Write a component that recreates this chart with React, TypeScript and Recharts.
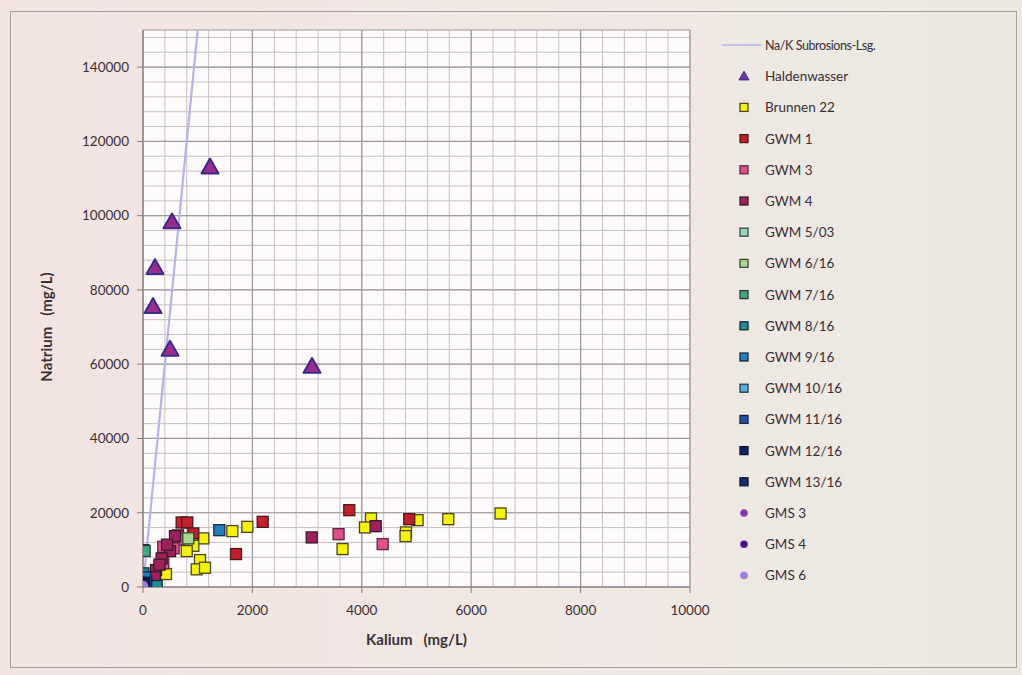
import React from 'react';
import { ScatterChart, Scatter, XAxis, YAxis, CartesianGrid, Label } from 'recharts';

// axis ticks
const kaliumTicks = [0, 2000, 4000, 6000, 8000, 10000];
const natriumTicks = [0, 20000, 40000, 60000, 80000, 100000, 120000, 140000];
const kaliumMinor = Array.from({ length: 26 }, (_, i) => i * 400);
const natriumMinor = Array.from({ length: 38 }, (_, i) => i * 4000);

// Na/K line
const subrosionLine = [
  { k: 0, na: 0 },
  { k: 1000, na: 150000 },
];

const haldenwasser = [
  { k: 1225, na: 113100 },
  { k: 530, na: 98300 },
  { k: 219, na: 86000 },
  { k: 183, na: 75500 },
  { k: 494, na: 64000 },
  { k: 3090, na: 59400 },
];

const brunnen22 = [
  { k: 1633, na: 15050 },
  { k: 1907, na: 16200 },
  { k: 1103, na: 13090 },
  { k: 920, na: 11100 },
  { k: 799, na: 9670 },
  { k: 1042, na: 7250 },
  { k: 982, na: 4750 },
  { k: 1133, na: 5190 },
  { k: 420, na: 3490 },
  { k: 3648, na: 10210 },
  { k: 4168, na: 18460 },
  { k: 4058, na: 16040 },
  { k: 5020, na: 18000 },
  { k: 4808, na: 14700 },
  { k: 4800, na: 13700 },
  { k: 5581, na: 18270 },
  { k: 6537, na: 19800 },
];

const gwm1 = [
  { k: 707, na: 17380 },
  { k: 809, na: 17380 },
  { k: 1700, na: 8870 },
  { k: 2188, na: 17550 },
  { k: 3771, na: 20690 },
  { k: 4867, na: 18270 },
  { k: 920, na: 14430 },
  { k: 640, na: 13900 },
];

const gwm3 = [
  { k: 664, na: 12800 },
  { k: 371, na: 10830 },
  { k: 371, na: 6370 },
  { k: 560, na: 10400 },
  { k: 3575, na: 14240 },
  { k: 4382, na: 11550 },
];

const gwm4 = [
  { k: 585, na: 13700 },
  { k: 494, na: 9670 },
  { k: 341, na: 7710 },
  { k: 238, na: 4570 },
  { k: 219, na: 2600 },
  { k: 6, na: 9940 },
  { k: 440, na: 11400 },
  { k: 300, na: 6000 },
  { k: 3084, na: 13350 },
  { k: 4254, na: 16390 },
];

const gwm503 = [{ k: 20, na: 1800 }];
const gwm616 = [{ k: 828, na: 13090 }];
const gwm716 = [{ k: 30, na: 9700 }];
const gwm816 = [
  { k: 6, na: 3680 },
  { k: 250, na: 270 },
];
const gwm916 = [
  { k: 1395, na: 15300 },
  { k: 37, na: 2600 },
];
const gwm1016 = [{ k: 6, na: 270 }];
const gwm1116 = [{ k: 60, na: 1200 }];
const gwm1216 = [{ k: 20, na: 900 }];
const gwm1316 = [{ k: 10, na: 500 }];
const gms3 = [{ k: 10, na: 100 }];
const gms4 = [{ k: 5, na: 200 }];
const gms6 = [{ k: 0, na: 300 }];

type Kind = 'triangle' | 'square' | 'circle';

const series: { name: string; data: { k: number; na: number }[]; fill: string; stroke: string; kind: Kind }[] = [
  { name: 'Haldenwasser', data: haldenwasser, fill: '#9b2d8c', stroke: '#3a2a8c', kind: 'triangle' },
  { name: 'Brunnen 22', data: brunnen22, fill: '#f4f10e', stroke: '#4a4520', kind: 'square' },
  { name: 'GWM 1', data: gwm1, fill: '#c21f2c', stroke: '#4a1a1a', kind: 'square' },
  { name: 'GWM 3', data: gwm3, fill: '#e0508c', stroke: '#5a2a3a', kind: 'square' },
  { name: 'GWM 4', data: gwm4, fill: '#a0205e', stroke: '#3a1a2a', kind: 'square' },
  { name: 'GWM 5/03', data: gwm503, fill: '#92d8b8', stroke: '#3a4a44', kind: 'square' },
  { name: 'GWM 6/16', data: gwm616, fill: '#a8d890', stroke: '#3a4a3a', kind: 'square' },
  { name: 'GWM 7/16', data: gwm716, fill: '#40a882', stroke: '#2a3a34', kind: 'square' },
  { name: 'GWM 8/16', data: gwm816, fill: '#1f8a92', stroke: '#1a2a30', kind: 'square' },
  { name: 'GWM 9/16', data: gwm916, fill: '#1f7fc2', stroke: '#1a2a3a', kind: 'square' },
  { name: 'GWM 10/16', data: gwm1016, fill: '#52b2e2', stroke: '#2a3a44', kind: 'square' },
  { name: 'GWM 11/16', data: gwm1116, fill: '#2150a2', stroke: '#1a2040', kind: 'square' },
  { name: 'GWM 12/16', data: gwm1216, fill: '#11205e', stroke: '#0a1030', kind: 'square' },
  { name: 'GWM 13/16', data: gwm1316, fill: '#1b2b72', stroke: '#0a1438', kind: 'square' },
  { name: 'GMS 3', data: gms3, fill: '#6a40a8', stroke: '#c040c0', kind: 'circle' },
  { name: 'GMS 4', data: gms4, fill: '#3a1880', stroke: '#7a2a9a', kind: 'circle' },
  { name: 'GMS 6', data: gms6, fill: '#8a86e6', stroke: '#d070d0', kind: 'circle' },
];

function Marker({ kind, fill, stroke, cx, cy, small }: { kind: Kind; fill: string; stroke: string; cx: number; cy: number; small?: boolean }) {
  if (kind === 'triangle') {
    const s = small ? 5 : 8.5;
    return (
      <polygon
        points={`${cx},${cy - s} ${cx - s},${cy + s * 0.75} ${cx + s},${cy + s * 0.75}`}
        fill={small ? '#6a3a9c' : fill}
        stroke={stroke}
        strokeWidth={small ? 1 : 2}
        strokeLinejoin="round"
      />
    );
  }
  if (kind === 'circle') {
    const r = small ? 3.5 : 4.5;
    return <circle cx={cx} cy={cy} r={r} fill={fill} stroke={stroke} strokeWidth={1} />;
  }
  const h = small ? 4 : 5.5;
  return <rect x={cx - h} y={cy - h} width={h * 2} height={h * 2} fill={fill} stroke={stroke} strokeWidth={1.3} />;
}

function ChartLegend() {
  const rowH = 31.2;
  return (
    <svg width={300} height={600} style={{ position: 'absolute', left: 715, top: 28 }}>
      <line x1={7} x2={46} y1={17} y2={17} stroke="#b4b4ea" strokeWidth={1.5} />
      <text x={50} y={22} fontSize={12.5} fill="#3a3035" fontFamily="Lato, sans-serif" letterSpacing={-0.4}>
        Na/K  Subrosions-Lsg.
      </text>
      {series.map((s, i) => {
        const y = 17 + rowH * (i + 1);
        return (
          <g key={s.name}>
            <Marker kind={s.kind} fill={s.fill} stroke={s.stroke} cx={29} cy={y} small />
            <text x={50} y={y + 5} fontSize={13.5} fill="#3a3035" fontFamily="Lato, sans-serif">
              {s.name}
            </text>
          </g>
        );
      })}
    </svg>
  );
}

const axisColor = '#857b7d';
const tickStyle = { fontSize: 13.5, fill: '#3a3035', fontFamily: 'Lato, sans-serif' };

// minor grid positions through the axis scales
const minorH = ({ yAxis, offset }: any) =>
  natriumMinor.map((v) =>
    yAxis && typeof yAxis.scale === 'function' ? yAxis.scale(v) : offset.top + offset.height * (1 - v / 150000)
  );
const minorV = ({ xAxis, offset }: any) =>
  kaliumMinor.map((v) =>
    xAxis && typeof xAxis.scale === 'function' ? xAxis.scale(v) : offset.left + (offset.width * v) / 10000
  );

export default function App() {
  return (
    <div
      style={{
        position: 'absolute',
        left: 0,
        top: 0,
        width: 1022,
        height: 675,
        background: 'linear-gradient(to right, #f3e4e2, #f0e8e4 60%, #ebe9e2)',
        overflow: 'hidden',
      }}
    >
      <style>{`body{margin:0}`}</style>
      <div
        style={{
          position: 'absolute',
          left: 10,
          top: 11,
          width: 1005,
          height: 655,
          border: '1px solid #aaa2a2',
        }}
      />
      <ScatterChart width={1022} height={675} margin={{ top: 30, right: 332, bottom: 38, left: 43 }}>
        <CartesianGrid
          fill="#fdfbfb"
          stroke="#cdbfc1"
          strokeWidth={1}
          horizontalCoordinatesGenerator={minorH}
          verticalCoordinatesGenerator={minorV}
        />
        <CartesianGrid stroke="#a2979a" strokeWidth={1.2} />
        <XAxis
          type="number"
          dataKey="k"
          domain={[0, 10000]}
          ticks={kaliumTicks}
          allowDataOverflow
          height={50}
          stroke={axisColor}
          tickSize={6}
          tickMargin={12}
          tick={tickStyle}
        >
          <Label
            content={({ viewBox }: any) => (
              <text
                x={viewBox.x + viewBox.width / 2}
                y={viewBox.y + 58}
                textAnchor="middle"
                fontSize={15}
                fontWeight={700}
                fill="#3a3035"
                fontFamily="Lato, sans-serif"
                style={{ whiteSpace: 'pre' }}
              >
                {'Kalium   (mg/L)'}
              </text>
            )}
          />
        </XAxis>
        <YAxis
          type="number"
          dataKey="na"
          domain={[0, 150000]}
          ticks={natriumTicks}
          allowDataOverflow
          width={100}
          stroke={axisColor}
          tickSize={6}
          tickMargin={8}
          tick={tickStyle}
        >
          <Label
            content={() => (
              <text
                x={52}
                y={327}
                transform="rotate(-90, 52, 327)"
                textAnchor="middle"
                fontSize={15}
                fontWeight={700}
                fill="#3a3035"
                fontFamily="Lato, sans-serif"
                style={{ whiteSpace: 'pre' }}
              >
                {'Natrium   (mg/L)'}
              </text>
            )}
          />
        </YAxis>
        <Scatter
          name="Na/K Subrosions-Lsg."
          data={subrosionLine}
          line={{ stroke: '#b4b4ea', strokeWidth: 2.2 }}
          shape={() => <g />}
          isAnimationActive={false}
        />
        {series.map((s) => (
          <Scatter
            key={s.name}
            name={s.name}
            data={s.data}
            isAnimationActive={false}
            shape={(p: any) => <Marker kind={s.kind} fill={s.fill} stroke={s.stroke} cx={p.cx} cy={p.cy} />}
          />
        ))}
      </ScatterChart>
      <ChartLegend />
    </div>
  );
}
